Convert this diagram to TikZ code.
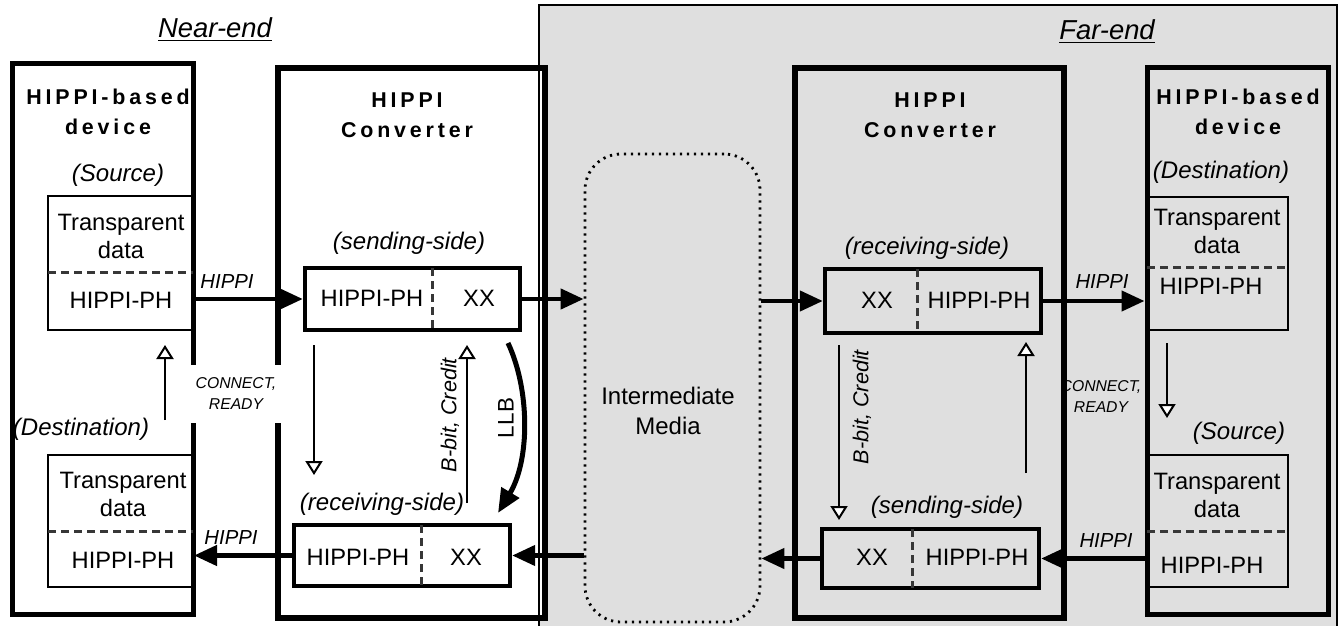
\documentclass[tikz,border=0pt]{standalone}
\usepackage{fontspec}
\setmainfont{Liberation Sans}
\newfontfamily\titlefont{Liberation Sans}[LetterSpace=18]
\usetikzlibrary{arrows.meta,fit}
\definecolor{bggray}{RGB}{223,223,223}
\definecolor{dashgray}{RGB}{55,55,55}
\begin{document}
\begin{tikzpicture}[x=0.5pt,y=-0.5pt,
  devbox/.style={draw, line width=2.5pt, inner sep=0pt},
  convbox/.style={draw, line width=3pt, inner sep=0pt},
  sidebox/.style={draw, line width=2.2pt, inner sep=0pt},
  layerbox/.style={draw, line width=1pt, inner sep=0pt},
  sig/.style={line width=2.2pt, -{Triangle[length=11.5pt,width=10pt]}},
  ctl/.style={line width=0.7pt, -{Triangle[open,fill=white,length=7pt,width=8.5pt,line width=1pt]}},
  divider/.style={dashgray, line width=1.5pt, dash pattern=on 4pt off 2.5pt},
  txt/.style={font=\fontsize{11.85}{14}\selectfont, align=center, inner sep=0pt},
  lab/.style={font=\fontsize{12}{14}\selectfont\itshape, inner sep=0pt},
  siglab/.style={font=\fontsize{10.15}{12}\selectfont\itshape, inner sep=0pt},
  ctllab/.style={font=\fontsize{7.85}{10.5}\selectfont\itshape, align=center, inner sep=0pt},
  rotlab/.style={font=\fontsize{10.8}{12}\selectfont\itshape, inner sep=0pt, rotate=90},
  title/.style={font=\titlefont\bfseries\fontsize{10.7}{15}\selectfont, align=center, inner sep=0pt},
  endlab/.style={font=\fontsize{13.7}{16}\selectfont\itshape, inner sep=0pt},
]
\useasboundingbox (0,0) rectangle (1339,626);
% far-end background
\fill[bggray] (539,5) rectangle (1337,630);
\node[ctllab] (fctl) at (1101,397) {CONNECT,\\READY};
% main boxes
\node[devbox, fit={(12,64) (193,614)}] (ndev) {};
\node[convbox, fill=white, fit={(278,68) (545,618)}] (nconv) {};
\draw[line width=0.8pt] (539,630) -- (539,5) -- (1337,5) -- (1337,630);
\node[convbox, fit={(795,68) (1064,618)}] (fconv) {};
\node[devbox, fit={(1147,68) (1328,614)}] (fdev) {};
% layer boxes in devices
\node[layerbox, fit={(48,196) (193,330)}] (nin1) {};
\node[layerbox, fit={(48,455) (193,587)}] (nin2) {};
\node[layerbox, fit={(1147,197) (1288,330)}] (fin1) {};
\node[layerbox, fit={(1147,455) (1288,587)}] (fin2) {};
\draw[divider] (48,272) -- (193,272);
\draw[divider] (48,531) -- (193,531);
\draw[divider] (1147,267) -- (1288,267);
\draw[divider] (1147,531) -- (1288,531);
% converter side boxes
\node[sidebox, fit={(305,268) (520,330)}] (nsend) {};
\node[sidebox, fit={(294,525) (510,586)}] (nrecv) {};
\node[sidebox, fit={(825,269) (1041,333)}] (frecv) {};
\node[sidebox, fit={(822,529) (1039,588)}] (fsend) {};
\draw[divider] (432,268) -- (432,330);
\draw[divider] (421,525) -- (421,586);
\draw[divider] (917,269) -- (917,333);
\draw[divider] (912,529) -- (912,588);
% intermediate media
\node[draw, line width=1.4pt, dash pattern=on 1.1pt off 2.4pt, rounded corners=18pt, inner sep=0pt, fit={(585,154) (760,622)}] (media) {};
\node[txt, font=\fontsize{12}{15}\selectfont] (mediatxt) at (668,411) {Intermediate\\Media};
% headings
\node[endlab] (nearlbl) at (215,30) {\underline{Near-end}};
\node[endlab] (farlbl) at (1107,32) {\underline{Far-end}};
\node[title] (ndevt) at (108,112) {HIPPI-based\\device};
\node[title] (fdevt) at (1238,112) {HIPPI-based\\device};
\node[title] (nconvt) at (407,115.5) {HIPPI\\Converter};
\node[title] (fconvt) at (930,115) {HIPPI\\Converter};
% role labels
\node[lab] (nsrc) at (118,175) {(Source)};
\node[lab] (ndst) at (81,429) {(Destination)};
\node[lab] (fdst) at (1221,172) {(Destination)};
\node[lab] (fsrc) at (1239,433) {(Source)};
\node[lab] (nsendl) at (409,243) {(sending-side)};
\node[lab] (nrecvl) at (382,504) {(receiving-side)};
\node[lab] (frecvl) at (927,248) {(receiving-side)};
\node[lab] (fsendl) at (947,507) {(sending-side)};
% texts in boxes
\node[txt] (nin1a) at (121,236) {Transparent\\data};
\node[txt] (nin1b) at (121,300) {HIPPI-PH};
\node[txt] (nin2a) at (123,494) {Transparent\\data};
\node[txt] (nin2b) at (123,560) {HIPPI-PH};
\node[txt] (fin1a) at (1217,231) {Transparent\\data};
\node[txt] (fin1b) at (1211,286) {HIPPI-PH};
\node[txt] (fin2a) at (1217,495) {Transparent\\data};
\node[txt] (fin2b) at (1212,565) {HIPPI-PH};
\node[txt] (nsa) at (372,298) {HIPPI-PH};
\node[txt] (nsb) at (479,298) {XX};
\node[txt] (nra) at (358,557) {HIPPI-PH};
\node[txt] (nrb) at (466,557) {XX};
\node[txt] (fra) at (877,300) {XX};
\node[txt] (frb) at (979,300) {HIPPI-PH};
\node[txt] (fsa) at (872,557) {XX};
\node[txt] (fsb) at (977,557) {HIPPI-PH};
% HIPPI signal arrows
\draw[sig] (nin1.east |- nsend.west) -- (nsend.west);
\draw[sig] (nrecv.west) -- (nrecv.west -| nin2.east);
\draw[sig] (nsend.east) -- (nsend.east -| media.west);
\draw[sig] (nrecv.east -| media.west) -- (nrecv.east);
\draw[sig] (frecv.west -| media.east) -- (frecv.west);
\draw[sig] (fsend.west) -- (fsend.west -| media.east);
\draw[sig] (frecv.east) -- (frecv.east -| fdev.west);
\draw[sig] (fsend.east -| fdev.west) -- (fsend.east);
\node[siglab] (h1) at (227,282) {HIPPI};
\node[siglab] (h2) at (231,538) {HIPPI};
\node[siglab] (h3) at (1102,282) {HIPPI};
\node[siglab] (h4) at (1106,541) {HIPPI};
% control arrows
\coordinate (nup0) at (165,420); \coordinate (nup1) at (165,345);
\coordinate (cdn0) at (314,345); \coordinate (cdn1) at (314,475);
\coordinate (cup0) at (467,503); \coordinate (cup1) at (467,345);
\coordinate (fdn0) at (839,345); \coordinate (fdn1) at (839,520);
\coordinate (fup0) at (1026,473); \coordinate (fup1) at (1026,342);
\coordinate (ddn0) at (1167,343); \coordinate (ddn1) at (1167,418);
\draw[ctl] (nup0) -- (nup1);
\draw[ctl] (cdn0) -- (cdn1);
\draw[ctl] (cup0) -- (cup1);
\draw[ctl] (fdn0) -- (fdn1);
\draw[ctl] (fup0) -- (fup1);
\draw[ctl] (ddn0) -- (ddn1);
\node[ctllab, fill=white, minimum width=50pt, minimum height=29pt] (nctl) at (236,394) {CONNECT,\\READY};
\node[rotlab] (nbb) at (450,415) {B-bit, Credit};
\node[rotlab] (fbb) at (862,407) {B-bit, Credit};
% LLB loop-back
\coordinate (llb0) at (508,343); \coordinate (llb1) at (498,513);
\draw[line width=2.5pt, -{Triangle[length=12pt,width=10pt]}] (llb0) .. controls (530,390) and (530,460) .. (llb1);
\node[font=\fontsize{11.25}{12}\selectfont, inner sep=0pt, rotate=90] (llbl) at (506,418) {LLB};
\end{tikzpicture}
\end{document}
